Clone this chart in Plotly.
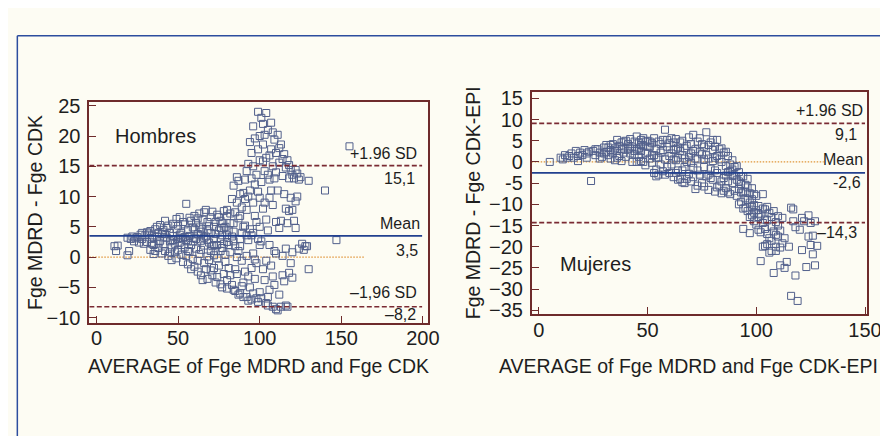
import plotly.graph_objects as go

# ---------------- data ----------------
hombres_points = [
    (11,1.8),(12,1.0),(13,1.9),(19,0.3),(20,1.0),(19,3.2),
    (22,3.4),(23,2.6),(24,3.1),(26,2.4),(27,3.7),(28,3.0),(29,2.2),(25,3.3),(30,3.6),(28,4.0),(21,3.0),
    (31,2.5),(32,3.9),(33,1.2),(33,4.3),(34,3.0),(35,0.5),(35,2.0),(36,4.6),(37,3.3),(38,1.5),(38,4.0),(39,2.7),(40,0.6),(40,3.8),(31,4.1),(34,2.2),(37,5.0),(36,1.0),(39,5.3),
    (41,2.1),(41,4.5),(42,6.0),(42,1.0),(43,3.2),(44,0.2),(44,5.2),(45,2.6),(45,4.0),(46,1.6),(46,-0.5),(47,3.5),(47,5.5),(48,0.8),(48,2.2),(49,4.6),(49,6.3),(50,3.0),(50,1.2),(43,4.8),(45,0.8),(47,2.8),(49,-0.2),(50,5.2),
    (51,2.4),(51,6.6),(52,0.4),(52,4.0),(53,3.1),(53,-0.8),(54,5.4),(54,1.6),(55,8.8),(55,2.8),(56,-1.2),(56,4.5),(57,3.5),(57,0.9),(58,6.0),(58,2.0),(59,-0.3),(59,4.9),(60,3.2),(60,-1.6),(60,6.8),(51,3.7),(53,5.8),(55,0.2),(57,6.5),(59,2.6),(52,2.0),(54,3.3),(56,1.0),(58,-2.0),
    (61,1.4),(61,5.6),(62,-2.4),(62,3.8),(63,7.2),(63,0.5),(64,2.7),(64,-3.0),(65,4.6),(65,6.2),(66,1.9),(66,-1.0),(67,3.4),(67,7.8),(68,0.1),(68,-3.6),(69,5.1),(69,2.4),(70,-2.2),(70,6.6),(70,4.0),(61,3.0),(62,-0.6),(63,4.9),(64,1.2),(65,-3.8),(66,3.2),(67,-2.0),(68,5.8),(69,-0.5),(62,6.4),(64,4.2),(66,7.4),(68,2.8),(70,1.0),
    (71,7.5),(71,-3.0),(72,3.0),(72,0.3),(73,5.8),(73,-4.2),(74,2.0),(74,7.0),(75,-1.4),(75,4.4),(76,6.0),(76,-4.5),(77,1.5),(77,3.6),(78,-2.8),(78,7.6),(79,5.0),(79,0.4),(80,-3.8),(80,2.5),(80,6.8),(71,1.8),(72,-1.8),(73,3.8),(74,-3.3),(75,6.6),(76,1.0),(77,-5.0),(78,4.8),(79,-0.8),(80,7.8),(72,5.0),(74,-0.2),(76,3.0),(78,2.2),(80,-5.2),(73,1.0),(77,5.6),
    (81,4.4),(81,-1.8),(82,7.2),(82,0.8),(83,-4.6),(83,3.4),(84,11.8),(84,5.6),(85,-5.6),(85,1.8),(86,9.0),(86,-2.8),(87,6.4),(87,12.6),(88,-6.0),(88,3.0),(89,8.2),(89,-0.6),(90,10.6),(90,-4.2),(90,5.0),(81,2.0),(82,-3.0),(83,9.6),(84,-5.4),(85,7.4),(86,0.0),(87,-6.2),(88,10.4),(89,4.0),(90,-6.6),(84,2.6),(86,13.2),(88,6.8),(82,5.6),(85,-2.0),(89,-4.8),(87,1.0),
    (91,12.8),(91,-2.4),(92,7.8),(92,-6.6),(93,15.4),(93,2.8),(94,-5.0),(94,11.0),(95,17.2),(95,-7.0),(96,9.0),(96,0.6),(97,19.6),(97,-3.6),(98,13.6),(98,5.8),(99,24.0),(99,-7.4),(100,16.0),(100,2.0),(100,-5.8),(91,5.2),(92,14.2),(93,-7.2),(94,19.0),(95,3.6),(96,-6.0),(97,12.0),(98,-1.0),(99,17.8),(100,9.8),(91,9.6),(93,-3.2),(95,13.0),(97,6.8),(99,10.8),(92,0.2),(94,4.6),(96,15.0),(98,-6.8),(100,20.0),(96,21.6),(93,10.0),(97,-0.4),(99,3.0),(95,-1.8),
    (101,23.0),(101,-6.8),(102,18.6),(102,8.0),(103,14.2),(103,-3.8),(104,23.8),(104,-7.6),(105,21.0),(105,4.4),(106,16.8),(106,-5.4),(107,22.2),(107,11.0),(108,15.0),(108,-8.2),(109,19.4),(109,1.0),(110,14.0),(110,-8.6),(101,12.4),(102,-2.0),(103,20.2),(104,6.2),(105,-6.6),(106,12.8),(107,-1.4),(108,20.6),(109,-4.6),(110,17.2),(101,2.6),(102,15.8),(103,9.0),(104,16.4),(105,13.6),(106,2.0),(107,17.8),(108,8.6),(109,13.0),(110,5.8),(104,-0.6),(106,9.8),(102,22.0),(108,-3.2),(110,0.6),(105,-8.0),
    (111,20.2),(111,-8.8),(112,15.6),(112,4.8),(113,18.6),(113,-8.2),(114,13.4),(114,0.2),(115,17.0),(115,-4.0),(116,14.8),(116,8.0),(117,16.0),(117,-8.2),(118,13.0),(118,-2.6),(119,14.4),(119,9.8),(120,13.6),(120,-3.4),(111,11.0),(112,-6.2),(113,6.0),(114,-3.0),(115,10.4),(116,1.4),(117,5.6),(118,7.6),(119,-1.0),(120,0.8),(112,18.0),(114,16.2),(116,-8.0),(118,15.2),
    (121,13.0),(122,14.4),(122,9.2),(123,13.8),(123,10.0),(124,12.8),(124,1.4),(125,13.2),(126,2.2),(127,1.2),(128,1.8),(129,1.8),(130,12.6),(130,-2.0),(140,11.0),(147,2.8),(155,18.3),(121,6.0),(122,4.8),(120,7.8),
    (34,3.6),(38,2.4),(42,3.8),(46,2.8),(52,3.2),(56,2.6),(60,4.6),(64,3.6),(68,4.4),(72,2.0),(76,4.8),(80,3.6),(84,4.2),(88,1.8),(92,3.6),(96,4.0),(100,5.0),
]

mujeres_points = [
    (5,0.0),(10,1.0),(11,0.6),(12,1.6),(13,1.0),(14,1.4),(15,2.0),(16,1.0),(17,2.6),(18,1.4),(18,0.2),(19,2.2),(20,1.6),(21,2.8),(22,1.0),(23,2.4),(24,-4.5),(25,2.6),(26,1.6),(27,3.0),(28,2.2),(29,1.2),(30,3.4),(22,2.0),(26,3.0),(28,0.8),
    (31,2.4),(31,4.0),(32,1.6),(32,3.4),(33,2.8),(33,0.8),(34,4.2),(34,2.0),(35,3.2),(35,0.4),(36,5.2),(36,2.6),(37,1.4),(37,3.8),(38,4.6),(38,0.2),(39,2.2),(39,3.4),(40,5.0),(40,1.2),(41,3.0),(41,4.2),(42,2.0),(42,5.4),(43,0.0),(43,3.6),(44,4.8),(44,1.8),(45,6.0),(45,3.0),(45,0.0),(30,2.0),(33,4.0),(36,1.0),(39,4.8),(42,3.2),(44,2.6),
    (46,4.6),(46,1.2),(47,5.2),(47,2.6),(48,0.0),(48,3.8),(49,4.8),(49,-0.8),(50,2.2),(50,5.0),(51,3.6),(51,0.8),(52,4.4),(52,-0.2),(53,1.6),(53,5.6),(54,-1.8),(54,3.0),(55,4.8),(55,-3.0),(56,2.2),(56,-0.6),(57,5.2),(57,-2.2),(58,7.6),(58,0.6),(59,3.6),(59,-1.2),(60,4.4),(60,-2.6),(46,3.2),(48,5.6),(50,3.6),(52,1.6),(53,-2.6),(54,-3.4),(55,1.0),(56,4.2),(57,2.8),(58,-3.0),(59,5.2),(60,1.4),(47,0.2),(49,2.0),(51,4.8),
    (61,5.6),(61,-0.6),(62,2.8),(62,-3.6),(63,5.4),(63,0.4),(64,-2.0),(64,3.4),(65,4.6),(65,-4.0),(66,1.6),(66,5.0),(67,-1.2),(67,-5.0),(68,3.8),(68,0.0),(69,-2.8),(69,5.8),(70,2.0),(70,-4.6),(71,6.4),(71,-1.4),(72,3.0),(72,-6.4),(73,4.8),(73,0.6),(74,-3.0),(74,5.6),(75,1.8),(75,-5.0),(61,2.0),(62,4.6),(63,-2.6),(64,1.0),(65,2.6),(66,-2.0),(67,3.2),(68,-4.0),(69,1.2),(70,4.2),(71,-3.6),(72,0.8),(73,-2.0),(74,2.4),(75,4.2),(66,-4.8),(70,-0.2),(73,-5.6),(62,0.6),(64,-4.2),
    (76,-1.2),(76,3.6),(77,7.0),(77,-3.4),(78,0.8),(78,-6.6),(79,4.6),(79,-1.6),(80,2.8),(80,-4.2),(81,-7.0),(81,1.0),(82,5.2),(82,-2.6),(83,-5.6),(83,3.0),(84,0.0),(84,-7.4),(85,2.2),(85,-3.8),(86,-1.0),(86,-6.2),(87,1.4),(87,-4.6),(88,-2.2),(88,-7.6),(89,0.4),(89,-5.0),(90,-3.2),(90,-6.8),(76,-5.8),(77,1.6),(78,4.0),(79,-3.8),(80,5.2),(81,-2.0),(82,-6.0),(83,0.6),(84,3.2),(85,-6.8),(86,2.4),(87,-2.4),(88,-0.6),(89,-3.0),(90,-1.2),(80,0.2),(84,-4.6),(87,-7.2),(78,-3.0),(82,1.4),
    (91,-4.2),(91,-8.0),(92,-2.4),(92,-6.4),(93,-5.2),(93,-9.4),(94,-3.4),(94,-7.2),(95,-8.6),(95,-10.8),(96,-6.0),(96,-11.6),(97,-9.6),(97,-7.4),(98,-12.6),(98,-8.8),(99,-10.2),(99,-14.0),(100,-11.4),(100,-8.0),(91,-1.0),(92,-10.0),(93,-3.4),(94,-11.0),(95,-5.4),(96,-9.0),(97,-13.0),(98,-6.2),(99,-12.0),(100,-14.8),(94,-15.8),(97,-16.8),(93,-7.2),(96,-4.0),(99,-7.6),
    (101,-10.4),(101,-13.0),(102,-12.4),(102,-16.6),(103,-7.6),(103,-14.4),(104,-11.2),(104,-19.8),(105,-13.8),(105,-17.0),(106,-12.0),(106,-21.4),(107,-15.2),(107,-18.6),(108,-11.6),(108,-26.2),(109,-14.2),(109,-20.0),(110,-17.6),(110,-12.8),(101,-16.0),(102,-23.4),(103,-20.0),(104,-15.8),(105,-10.6),(106,-18.0),(107,-13.0),(108,-16.4),(109,-21.0),(110,-15.0),(103,-11.0),(105,-19.4),(107,-21.0),(109,-17.2),
    (111,-16.2),(111,-24.4),(112,-13.2),(112,-19.2),(113,-18.0),(114,-23.6),(115,-20.0),(116,-10.8),(116,-31.6),(117,-14.0),(117,-11.2),(118,-15.4),(118,-26.8),(119,-32.8),(120,-16.0),(121,-13.2),(121,-20.8),(122,-14.0),(123,-24.8),(124,-12.6),(124,-17.6),(125,-19.6),(125,-14.4),(126,-21.8),(127,-24.4),(127,-14.0),(128,-19.8),(126,-17.4),(113,-25.0),(111,-20.2),
    (38,3.0),(47,4.0),(54,1.0),(63,3.0),(67,0.8),(71,2.6),(76,0.6),(81,3.6),(86,-3.2),(89,-1.8),(92,-4.6),(95,-7.0),(98,-10.6),(101,-12.2),(104,-13.6),
]

# Bland-Altman statistics
hombres_mean, hombres_upper, hombres_lower = 3.5, 15.1, -8.2
mujeres_mean, mujeres_upper, mujeres_lower = -2.6, 9.1, -14.3

# tick labels
hombres_xticks = [0, 50, 100, 150, 200]
hombres_yticks = [25, 20, 15, 10, 5, 0, -5, -10]
hombres_yticktext = ["25", "20", "15", "10", "5", "0", "\u22125", "\u221210"]
mujeres_xticks = [0, 50, 100, 150]
mujeres_yticks = [15, 10, 5, 0, -5, -10, -15, -20, -25, -30, -35]
mujeres_yticktext = ["15", "10", "5", "0", "-5", "\u221210", "\u221215", "\u221220",
                     "\u221225", "\u221230", "\u221235"]

# ---------------- styling ----------------
W, H = 888, 436
BG = "#fdfcf3"
FRAME = "#6e2b2b"
MARK = "#52608c"
MEANC = "#22408f"
SDC = "#7a2a33"
ZEROC = "#e0953a"
TXT = "#1e1e1e"
FONT = "Liberation Sans, Arial, sans-serif"

def px(x):  # horizontal pixel -> paper
    return x / W

def py(y):  # vertical pixel -> paper
    return 1 - y / H

fig = go.Figure()

hx = [p[0] for p in hombres_points]
hy = [p[1] for p in hombres_points]
mx = [p[0] for p in mujeres_points]
my = [p[1] for p in mujeres_points]

L_XR = [-4.4, 203.4]
L_YR = [-10.9, 25.6]
R_XR = [-3.3, 150.7]
R_YR = [-35.9, 16.4]

def hline(xa, ya, x0, x1, v, color, dash, width):
    fig.add_trace(go.Scatter(x=[x0, x1], y=[v, v], xaxis=xa, yaxis=ya, mode="lines",
                             line=dict(color=color, dash=dash, width=width),
                             showlegend=False, hoverinfo="skip"))

MK = dict(symbol="square-open", size=7, color=MARK, line=dict(width=1, color=MARK))
SD_DASH = "5px,2.5px"
ZERO_DASH = "1.5px,1.5px"

# left panel
hline("x", "y", L_XR[0], 164, 0, ZEROC, ZERO_DASH, 1.3)
fig.add_trace(go.Scatter(x=hx, y=hy, xaxis="x", yaxis="y", mode="markers",
                         marker=MK, showlegend=False))
hline("x", "y", L_XR[0], 199.5, hombres_mean, MEANC, "solid", 1.7)
hline("x", "y", L_XR[0], 199.5, hombres_upper, SDC, SD_DASH, 1.7)
hline("x", "y", L_XR[0], 199.5, hombres_lower, SDC, SD_DASH, 1.7)

# right panel
hline("x2", "y2", R_XR[0], 131, 0, ZEROC, ZERO_DASH, 1.3)
fig.add_trace(go.Scatter(x=mx, y=my, xaxis="x2", yaxis="y2", mode="markers",
                         marker=MK, showlegend=False))
hline("x2", "y2", R_XR[0], 150, mujeres_mean, MEANC, "solid", 1.7)
hline("x2", "y2", R_XR[0], 150, mujeres_upper, SDC, SD_DASH, 1.7)
hline("x2", "y2", R_XR[0], 150, mujeres_lower, SDC, SD_DASH, 1.7)

axis_common = dict(showgrid=False, zeroline=False, showline=True, mirror=True,
                   linecolor=FRAME, linewidth=1.6, ticks="inside", ticklen=7,
                   tickcolor=FRAME, tickwidth=1.2,
                   tickfont=dict(family=FONT, size=20, color=TXT))

fig.update_layout(
    width=W, height=H, margin=dict(l=0, r=0, t=0, b=0),
    paper_bgcolor=BG, plot_bgcolor=BG, showlegend=False,
    xaxis=dict(domain=[px(82.7), px(427.7)], range=L_XR, anchor="y",
               tickvals=hombres_xticks, ticklabelstandoff=-4, **axis_common),
    yaxis=dict(domain=[py(318.3), py(90)], range=L_YR, anchor="x",
               tickvals=hombres_yticks, ticktext=hombres_yticktext,
               ticklabelstandoff=3, **axis_common),
    xaxis2=dict(domain=[px(532.7), px(873.3)], range=R_XR, anchor="y2",
                tickvals=mujeres_xticks, ticklabelstandoff=-3, **axis_common),
    yaxis2=dict(domain=[py(309), py(80)], range=R_YR, anchor="x2",
                tickvals=mujeres_yticks, ticktext=mujeres_yticktext,
                ticklabelstandoff=3, **axis_common),
)

ann = []
def A(text, x, y, xref, yref, size, xanchor="center", yanchor="middle", angle=0):
    ann.append(dict(text=text, x=x, y=y, xref=xref, yref=yref, showarrow=False,
                    xanchor=xanchor, yanchor=yanchor, textangle=angle,
                    font=dict(family=FONT, size=size, color=TXT)))

# axis titles
A("Fge MDRD - Fge CDK", px(28), py(204), "paper", "paper", 19.5, angle=-90)
A("Fge MDRD - Fge CDK-EPI", px(473), py(194.5), "paper", "paper", 19.5, angle=-90)
A("AVERAGE of Fge MDRD and Fge CDK", px(255), py(363), "paper", "paper", 19.5)
A("AVERAGE of Fge MDRD and Fge CDK-EPI", px(692), py(363), "paper", "paper", 19.5)

# panel labels
A("Hombres", 10.2, 20.0, "x", "y", 20, xanchor="left")
A("Mujeres", 8.6, -24.0, "x2", "y2", 20, xanchor="left")

# line labels left
A("+1.96 SD", 197.6, 17.1, "x", "y", 16, xanchor="right")
A("15,1", 196.6, 13.0, "x", "y", 16, xanchor="right")
A("Mean", 199.5, 5.5, "x", "y", 16, xanchor="right")
A("3,5", 198.0, 1.15, "x", "y", 16, xanchor="right")
A("\u20131,96 SD", 197.6, -5.9, "x", "y", 16, xanchor="right")
A("\u20138,2", 197.0, -9.55, "x", "y", 16, xanchor="right")

# line labels right
A("+1.96 SD", 149.8, 12.2, "x2", "y2", 16, xanchor="right")
A("9,1", 147.0, 6.5, "x2", "y2", 16, xanchor="right")
A("Mean", 149.8, 0.6, "x2", "y2", 16, xanchor="right")
A("-2,6", 148.9, -4.9, "x2", "y2", 16, xanchor="right")
A("\u20131,96 SD", 152.0, -11.6, "x2", "y2", 16, xanchor="right")
A("\u201314,3", 147.0, -16.7, "x2", "y2", 16, xanchor="right")

fig.update_layout(annotations=ann)

# outer blue frame (top and left edges)
fig.add_shape(type="line", xref="paper", yref="paper", x0=px(9.5), x1=1.02,
              y0=py(21.5), y1=py(21.5), line=dict(color="#2d4d9e", width=1.5))
fig.add_shape(type="line", xref="paper", yref="paper", x0=px(9.5), x1=px(9.5),
              y0=py(21.5), y1=-0.02, line=dict(color="#2d4d9e", width=1.5))

fig.write_html("out.html")
